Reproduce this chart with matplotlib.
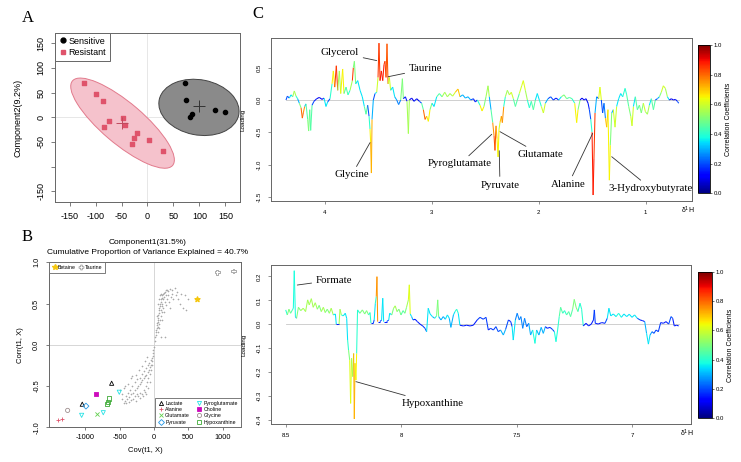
import numpy as np
import matplotlib as mpl
import matplotlib.pyplot as plt
from matplotlib.collections import LineCollection
from matplotlib.patches import Ellipse
from matplotlib.lines import Line2D
from matplotlib.ticker import FormatStrFormatter

plt.rcParams['font.family'] = ['Liberation Sans', 'DejaVu Sans']
plt.rcParams['axes.unicode_minus'] = False
SERIF = ['Liberation Serif', 'DejaVu Serif']

# ---------------- panel A : PLS-DA scores ----------------
sens_x = [73, 74, 82, 86, 129, 150]
sens_y = [70, 36, 0, 6, 14, 10]
res_x = [-122, -99, -85, -75, -83, -47, -43, -20, -26, -29, 3, 30]
res_y = [69, 48, 32, -8, -19, -1, -16, -33, -43, -55, -46, -68]
# confidence ellipses: centre x, centre y, width, height, angle
sens_ell = [99, 20, 156, 112, -12]
res_ell = [-48, -12, 258, 82, -42]

# ---------------- panel B : S-plot ----------------
cloud_cov = [10, 20, 25, 30, 35, 40, 45, 50, 55, 60, 65, 70, 75, 80, 85, 90, 95, 100,
             110, 120, 130, 140, 155, 170, 190, 210, 230, 260, 300, 330, 200, 250, 280,
             320, 350, 380, 420, 470, 500, 450, 400, 150, 160, 120, 130, 110, 100, 90,
             80, 70, 60, 120, 140, 155, 100, 180, 220, 240, 130, 170, 75, 85, 60, 45,
             110, 95, 65, 55, 105, 190, 260,
             -5, -10, -15, -20, -25, -35, -45, -60, -75, -90, -110, -130, -150, -170,
             -190, -210, -230, -250, -270, -300, -330, -360, -390, -420, -440, -400,
             -370, -340, -300, -260, -230, -200, -180, -150, -120, -100, -80, -60, -40,
             -30, -50, -70, -90, -110, -140, -170, -200, -240, -280, -320, -350, -380,
             -410, -460, -420, -380, -330, -260, -220, -180, -130, -100, -160, -130,
             -110, -90, -200, -240, -280, -60, -320, -500, -470, -440]
cloud_cor = [0.05, 0.1, 0.12, 0.15, 0.18, 0.2, 0.24, 0.27, 0.3, 0.33, 0.36, 0.38, 0.42,
             0.45, 0.47, 0.5, 0.52, 0.55, 0.57, 0.6, 0.62, 0.63, 0.64, 0.66, 0.67, 0.65,
             0.68, 0.66, 0.69, 0.64, 0.6, 0.58, 0.55, 0.6, 0.55, 0.5, 0.45, 0.42, 0.55,
             0.6, 0.62, 0.58, 0.52, 0.5, 0.45, 0.4, 0.35, 0.3, 0.25, 0.2, 0.15, 0.3, 0.4,
             0.1, 0.1, 0.48, 0.52, 0.45, 0.55, 0.6, 0.55, 0.6, 0.5, 0.35, 0.47, 0.42,
             0.28, 0.22, 0.62, 0.55, 0.62,
             -0.03, -0.06, -0.1, -0.13, -0.16, -0.2, -0.24, -0.27, -0.3, -0.33, -0.36,
             -0.38, -0.4, -0.43, -0.45, -0.48, -0.5, -0.52, -0.55, -0.58, -0.6, -0.63,
             -0.66, -0.68, -0.7, -0.7, -0.69, -0.67, -0.66, -0.68, -0.62, -0.58, -0.6,
             -0.55, -0.5, -0.45, -0.4, -0.35, -0.3, -0.25, -0.18, -0.22, -0.25, -0.28,
             -0.32, -0.35, -0.4, -0.42, -0.45, -0.5, -0.55, -0.58, -0.62, -0.66, -0.5,
             -0.48, -0.4, -0.36, -0.3, -0.26, -0.2, -0.15, -0.62, -0.57, -0.6, -0.52,
             -0.65, -0.6, -0.62, -0.45, -0.38, -0.55, -0.6, -0.52]

metab_names = ['Lactate', 'Alanine', 'Glutamate', 'Pyruvate',
               'Pyroglutamate', 'Choline', 'Glycine', 'Hypoxanthine']
metab_cov = [[-616, -1044], [-1402, -1343], [-834], [-990],
             [-505, -1053, -738], [-844], [-1257], [-650, -665, -680]]
metab_cor = [[-0.466, -0.72], [-0.916, -0.895], [-0.835], [-0.743],
             [-0.575, -0.855, -0.823], [-0.594], [-0.795], [-0.65, -0.69, -0.72]]
metab_col = ['black', '#DF536B', '#61D04F', '#2297E6',
             '#28E2E5', '#CD0BBC', '#9E8E8E', '#3DAA35']
metab_mk = ['^', '+', 'x', 'D', 'v', 's', 'o', 's']
top_names = ['Betaine', 'Taurine']
top_cov = [[621], [921, 1155]]
top_cor = [[0.55], [0.88, 0.895]]

# ---------------- panel C : loadings coloured by correlation ----------------
hi_ppm = [4.365, 4.352, 4.334, 4.318, 4.302, 4.287, 4.271, 4.256, 4.240, 4.224,
          4.212, 4.203, 4.190, 4.178, 4.162, 4.153, 4.143, 4.134, 4.121, 4.103,
          4.078, 4.053, 4.028, 4.009, 3.991, 3.975, 3.953, 3.934, 3.922, 3.909,
          3.894, 3.881, 3.866, 3.853, 3.835, 3.822, 3.803, 3.785, 3.766, 3.744,
          3.735, 3.725, 3.713, 3.694, 3.672, 3.651, 3.632, 3.616, 3.601, 3.588,
          3.579, 3.573, 3.566, 3.560, 3.548, 3.532, 3.516, 3.504, 3.495, 3.485,
          3.473, 3.460, 3.448, 3.439, 3.429, 3.420, 3.410, 3.398, 3.386, 3.367,
          3.348, 3.329, 3.311, 3.292, 3.276, 3.267, 3.248, 3.233, 3.220, 3.211,
          3.189, 3.167, 3.142, 3.117, 3.096, 3.080, 3.064, 3.049, 3.033, 3.018,
          2.999, 2.980, 2.955, 2.930, 2.905, 2.880, 2.855, 2.831, 2.806, 2.781,
          2.756, 2.737, 2.712, 2.687, 2.662, 2.637, 2.612, 2.594, 2.575, 2.550,
          2.531, 2.513, 2.494, 2.475, 2.463, 2.447, 2.431, 2.419, 2.410, 2.400,
          2.391, 2.381, 2.372, 2.363, 2.350, 2.341, 2.328, 2.313, 2.294, 2.275,
          2.257, 2.238, 2.219, 2.201, 2.182, 2.160, 2.145, 2.126, 2.107, 2.088,
          2.070, 2.051, 2.032, 2.014, 1.995, 1.976, 1.957, 1.939, 1.914, 1.889,
          1.864, 1.839, 1.814, 1.789, 1.764, 1.739, 1.714, 1.689, 1.664, 1.646,
          1.633, 1.614, 1.596, 1.577, 1.558, 1.539, 1.527, 1.514, 1.502, 1.492,
          1.484, 1.474, 1.459, 1.440, 1.428, 1.415, 1.403, 1.390, 1.377, 1.365,
          1.353, 1.340, 1.331, 1.318, 1.303, 1.287, 1.272, 1.253, 1.234, 1.215,
          1.193, 1.178, 1.159, 1.140, 1.128, 1.115, 1.097, 1.078, 1.059, 1.041,
          1.022, 1.003, 0.984, 0.966, 0.947, 0.928, 0.910, 0.891, 0.872, 0.854,
          0.835, 0.816, 0.797, 0.779, 0.760, 0.741, 0.722, 0.704, 0.691]
hi_load = [0.00, 0.06, 0.03, 0.08, 0.05, 0.14, 0.06, 0.02, -0.05, -0.12,
           -0.28, -0.20, -0.10, -0.06, -0.30, -0.48, -0.15, -0.47, -0.08, -0.02,
           0.02, 0.04, 0.01, 0.03, -0.10, -0.03, 0.02, 0.25, 0.45, 0.20,
           0.53, 0.15, 0.45, 0.10, 0.48, 0.10, 0.20, 0.08, 0.15, 0.30,
           0.50, 0.60, 0.25, 0.30, 0.15, 0.05, -0.10, -0.22, -0.08, -0.25,
           -0.45, -0.65, -1.13, -0.30, 0.00, 0.10, 0.12, 0.35, 0.88, 0.30,
           0.45, 0.30, 0.55, 0.60, 0.35, 0.87, 0.25, 0.35, 0.15, 0.20,
           0.05, 0.00, -0.07, 0.00, 0.33, 0.02, 0.05, -0.02, -0.52, 0.00,
           0.03, -0.02, 0.02, -0.02, -0.05, -0.15, -0.30, -0.25, -0.33, -0.15,
           -0.05, -0.10, 0.05, 0.10, 0.05, 0.12, 0.05, 0.10, 0.06, 0.12,
           0.17, 0.05, 0.08, 0.03, 0.05, 0.00, 0.02, -0.03, 0.00, -0.08,
           -0.17, -0.10, 0.05, 0.22, 0.05, -0.15, -0.35, -0.55, -0.78, -0.40,
           -0.60, -0.88, -0.45, -0.35, -0.25, -0.35, -0.10, 0.05, 0.15, 0.08,
           0.12, 0.02, -0.10, 0.00, 0.10, 0.22, 0.30, 0.15, 0.00, -0.12,
           -0.02, -0.15, 0.00, 0.10, 0.00, -0.10, -0.20, -0.05, 0.02, 0.05,
           0.00, 0.03, 0.00, 0.05, 0.08, 0.02, 0.04, 0.02, -0.05, -0.35,
           -0.15, 0.00, 0.03, 0.00, 0.02, -0.05, -0.15, -0.30, -0.50, -1.47,
           -0.90, -0.20, 0.05, 0.02, 0.20, 0.00, -0.20, -0.05, -0.28, -0.42,
           -0.15, -1.24, -0.70, -0.20, -0.15, -0.42, -0.10, 0.02, 0.10, 0.05,
           0.18, 0.08, -0.10, -0.25, -0.40, -0.10, 0.05, -0.15, -0.08, -0.20,
           -0.05, -0.18, -0.22, -0.08, 0.02, -0.15, 0.00, 0.02, 0.05, 0.12,
           0.22, 0.18, 0.05, 0.00, 0.02, 0.00, 0.01, -0.02, -0.05]
hi_corr = [0.15, 0.2, 0.15, 0.35, 0.3, 0.55, 0.4, 0.2, 0.3, 0.5,
           0.8, 0.75, 0.3, 0.2, 0.45, 0.5, 0.3, 0.45, 0.2, 0.15,
           0.1, 0.1, 0.15, 0.1, 0.35, 0.2, 0.15, 0.4, 0.65, 0.4,
           0.85, 0.45, 0.55, 0.35, 0.65, 0.35, 0.45, 0.3, 0.4, 0.55,
           0.85, 0.5, 0.4, 0.35, 0.35, 0.3, 0.35, 0.45, 0.25, 0.2,
           0.4, 0.65, 0.72, 0.3, 0.15, 0.2, 0.35, 0.6, 0.85, 0.8,
           0.88, 0.9, 0.88, 0.85, 0.85, 0.82, 0.75, 0.6, 0.4, 0.35,
           0.3, 0.15, 0.25, 0.15, 0.5, 0.2, 0.15, 0.2, 0.55, 0.2,
           0.1, 0.15, 0.1, 0.1, 0.2, 0.45, 0.8, 0.75, 0.65, 0.5,
           0.3, 0.35, 0.3, 0.45, 0.35, 0.55, 0.4, 0.55, 0.4, 0.6,
           0.7, 0.35, 0.3, 0.2, 0.3, 0.15, 0.2, 0.15, 0.2, 0.4,
           0.65, 0.5, 0.4, 0.55, 0.35, 0.3, 0.45, 0.75, 0.82, 0.75,
           0.72, 0.65, 0.6, 0.7, 0.8, 0.75, 0.4, 0.4, 0.55, 0.45,
           0.6, 0.35, 0.45, 0.3, 0.45, 0.6, 0.62, 0.55, 0.35, 0.4,
           0.3, 0.45, 0.2, 0.35, 0.2, 0.4, 0.6, 0.3, 0.15, 0.2,
           0.1, 0.15, 0.1, 0.35, 0.5, 0.4, 0.45, 0.3, 0.4, 0.65,
           0.5, 0.2, 0.1, 0.1, 0.15, 0.1, 0.15, 0.2, 0.4, 0.88,
           0.85, 0.3, 0.2, 0.15, 0.62, 0.3, 0.2, 0.15, 0.25, 0.7,
           0.2, 0.65, 0.5, 0.3, 0.35, 0.6, 0.35, 0.3, 0.35, 0.3,
           0.4, 0.35, 0.45, 0.5, 0.6, 0.35, 0.3, 0.45, 0.35, 0.5,
           0.3, 0.6, 0.55, 0.35, 0.3, 0.45, 0.3, 0.2, 0.3, 0.5,
           0.6, 0.55, 0.35, 0.15, 0.1, 0.1, 0.1, 0.15, 0.2]

ar_ppm = [8.500, 8.493, 8.486, 8.479, 8.471, 8.467, 8.463, 8.458, 8.453, 8.445,
          8.435, 8.424, 8.414, 8.405, 8.398, 8.389, 8.381, 8.372, 8.363, 8.355,
          8.346, 8.337, 8.329, 8.320, 8.311, 8.303, 8.294, 8.285, 8.281, 8.269,
          8.265, 8.259, 8.251, 8.242, 8.236, 8.232, 8.228, 8.223, 8.219, 8.215,
          8.210, 8.206, 8.203, 8.200, 8.196, 8.193, 8.189, 8.179, 8.168, 8.158,
          8.150, 8.141, 8.135, 8.131, 8.121, 8.117, 8.112, 8.108, 8.105, 8.102,
          8.092, 8.085, 8.080, 8.076, 8.063, 8.054, 8.050, 8.041, 8.033, 8.026,
          8.018, 8.010, 8.001, 7.992, 7.984, 7.977, 7.969, 7.965, 7.961, 7.955,
          7.949, 7.940, 7.930, 7.919, 7.907, 7.897, 7.890, 7.883, 7.875, 7.865,
          7.855, 7.847, 7.842, 7.838, 7.828, 7.818, 7.809, 7.800, 7.792, 7.785,
          7.774, 7.767, 7.760, 7.753, 7.746, 7.731, 7.717, 7.702, 7.688, 7.671,
          7.659, 7.645, 7.633, 7.623, 7.613, 7.601, 7.590, 7.580, 7.570, 7.558,
          7.548, 7.536, 7.526, 7.520, 7.515, 7.506, 7.498, 7.489, 7.482, 7.474,
          7.466, 7.457, 7.448, 7.440, 7.431, 7.421, 7.414, 7.404, 7.394, 7.385,
          7.376, 7.368, 7.356, 7.346, 7.337, 7.330, 7.323, 7.316, 7.310, 7.301,
          7.293, 7.284, 7.275, 7.267, 7.258, 7.251, 7.243, 7.235, 7.226, 7.219,
          7.212, 7.200, 7.189, 7.177, 7.168, 7.164, 7.160, 7.147, 7.132, 7.118,
          7.108, 7.101, 7.093, 7.082, 7.070, 7.059, 7.047, 7.036, 7.024, 7.013,
          7.001, 6.990, 6.978, 6.966, 6.955, 6.946, 6.938, 6.930, 6.923, 6.914,
          6.906, 6.897, 6.887, 6.877, 6.865, 6.854, 6.842, 6.832, 6.825, 6.818,
          6.808, 6.799]
ar_load = [0.060, 0.039, 0.063, 0.046, 0.060, 0.067, 0.224, 0.032, 0.025, 0.071,
           0.057, 0.067, 0.053, 0.102, 0.081, 0.107, 0.071, 0.090, 0.063, 0.079,
           0.053, 0.071, 0.049, 0.063, 0.046, 0.067, 0.039, 0.043, 0.000, 0.000,
           0.063, 0.039, 0.035, 0.046, 0.025, -0.066, -0.108, -0.150, -0.331, -0.142,
           -0.219, -0.122, -0.396, -0.163, -0.233, -0.122, 0.060, 0.046, 0.060, 0.043,
           0.057, 0.039, 0.049, 0.004, 0.004, 0.018, 0.088, 0.116, 0.199, 0.011,
           0.011, 0.018, 0.109, 0.011, 0.011, 0.018, 0.046, 0.039, 0.067, 0.077,
           0.053, 0.063, 0.039, 0.057, 0.046, 0.071, 0.102, 0.165, 0.043, 0.032,
           0.018, 0.021, 0.011, 0.001, -0.007, -0.017, -0.031, 0.067, 0.043, 0.032,
           0.025, 0.035, 0.102, 0.032, 0.018, 0.032, 0.021, 0.039, 0.025, -0.013,
           0.039, 0.053, 0.063, 0.046, -0.004, -0.007, -0.004, -0.007, -0.004, 0.018,
           0.029, 0.021, 0.029, -0.024, -0.017, -0.024, -0.010, -0.031, -0.024, -0.045,
           -0.021, 0.018, 0.011, -0.010, -0.066, 0.018, 0.046, 0.018, 0.032, -0.017,
           0.025, -0.010, 0.004, -0.045, -0.024, -0.080, -0.024, -0.045, -0.013, -0.038,
           -0.010, -0.017, -0.013, -0.021, -0.031, -0.073, -0.024, 0.032, 0.071, 0.046,
           0.057, 0.039, 0.053, 0.032, 0.063, 0.104, 0.071, 0.053, 0.088, 0.063,
           -0.007, 0.004, -0.007, 0.001, 0.018, 0.060, 0.004, 0.001, 0.007, 0.004,
           0.025, 0.067, 0.035, 0.043, 0.032, 0.046, 0.029, 0.043, 0.032, 0.042,
           0.029, 0.039, 0.025, 0.018, 0.015, 0.011, -0.038, -0.083, -0.045, -0.031,
           -0.038, -0.024, -0.031, 0.007, 0.004, 0.011, 0.001, 0.032, 0.025, -0.007,
           -0.004, -0.007]
ar_corr = [0.4, 0.45, 0.5, 0.4, 0.45, 0.4, 0.38, 0.3, 0.2, 0.5,
           0.5, 0.55, 0.45, 0.55, 0.6, 0.55, 0.5, 0.55, 0.45, 0.5,
           0.45, 0.55, 0.4, 0.5, 0.4, 0.55, 0.4, 0.35, 0.15, 0.15,
           0.55, 0.4, 0.35, 0.35, 0.3, 0.35, 0.4, 0.5, 0.62, 0.45,
           0.55, 0.45, 0.72, 0.6, 0.65, 0.4, 0.4, 0.45, 0.5, 0.45,
           0.5, 0.45, 0.4, 0.15, 0.15, 0.2, 0.35, 0.4, 0.75, 0.15,
           0.15, 0.2, 0.35, 0.15, 0.15, 0.2, 0.35, 0.35, 0.5, 0.55,
           0.45, 0.5, 0.35, 0.45, 0.4, 0.5, 0.55, 0.62, 0.35, 0.3,
           0.15, 0.15, 0.15, 0.15, 0.15, 0.18, 0.2, 0.35, 0.35, 0.3,
           0.3, 0.4, 0.5, 0.3, 0.18, 0.3, 0.25, 0.35, 0.3, 0.18,
           0.3, 0.35, 0.4, 0.35, 0.15, 0.15, 0.15, 0.15, 0.15, 0.15,
           0.18, 0.15, 0.18, 0.15, 0.15, 0.18, 0.15, 0.2, 0.2, 0.3,
           0.2, 0.15, 0.18, 0.2, 0.35, 0.18, 0.25, 0.18, 0.25, 0.2,
           0.25, 0.2, 0.18, 0.3, 0.25, 0.38, 0.25, 0.3, 0.2, 0.3,
           0.18, 0.15, 0.15, 0.18, 0.2, 0.38, 0.25, 0.4, 0.45, 0.45,
           0.4, 0.4, 0.45, 0.3, 0.45, 0.5, 0.5, 0.45, 0.4, 0.4,
           0.15, 0.15, 0.15, 0.15, 0.15, 0.18, 0.15, 0.15, 0.15, 0.15,
           0.2, 0.35, 0.25, 0.35, 0.3, 0.38, 0.3, 0.35, 0.3, 0.35,
           0.3, 0.35, 0.2, 0.15, 0.15, 0.15, 0.3, 0.35, 0.28, 0.2,
           0.2, 0.18, 0.18, 0.15, 0.15, 0.15, 0.15, 0.2, 0.15, 0.15,
           0.15, 0.15]

hi_labels = ['Glycerol', 'Taurine', 'Glycine', 'Pyroglutamate', 'Glutamate',
             'Pyruvate', 'Alanine', '3-Hydroxybutyrate']
hi_peak = [(3.516, 0.61), (3.41, 0.36), (3.579, -0.66), (2.44, -0.53), (2.363, -0.49),
           (2.37, -0.785), (1.496, -0.516), (1.318, -0.877)]
hi_text = [(3.86, 0.73), (3.06, 0.48), (3.75, -1.16), (2.737, -0.99), (1.989, -0.84),
           (2.363, -1.316), (1.724, -1.305), (0.953, -1.367)]
ar_labels = ['Formate', 'Hypoxanthine']
ar_peak = [(8.45, 0.164), (8.196, -0.24)]
ar_text = [(8.291, 0.185), (7.865, -0.33)]

GRAY = '#666666'
fig = plt.figure(figsize=(7.41, 4.62), dpi=100)


def frame(ax):
    for s in ax.spines.values():
        s.set_color(GRAY)
        s.set_linewidth(0.7)


# ---------- A ----------
axA = fig.add_axes([0.0742, 0.5628, 0.2497, 0.3658])
frame(axA)
axA.axhline(0, color='#e3e3e3', lw=0.6, zorder=0)
axA.axvline(0, color='#e3e3e3', lw=0.6, zorder=0)
axA.add_patch(Ellipse(sens_ell[:2], sens_ell[2], sens_ell[3], angle=sens_ell[4],
                      facecolor='#8a8a8a', edgecolor='#444444', lw=0.7, zorder=1))
axA.add_patch(Ellipse(res_ell[:2], res_ell[2], res_ell[3], angle=res_ell[4],
                      facecolor='#f5c2cc', edgecolor='#e27a8c', lw=0.7, zorder=1))
axA.scatter(sens_x, sens_y, s=9, color='black', zorder=3)
axA.scatter(res_x, res_y, s=9, marker='s', color='#DF536B', zorder=3)
axA.plot(np.mean(sens_x), np.mean(sens_y), marker='+', ms=9, mew=0.7, color='#333333', zorder=4)
axA.plot(np.mean(res_x), np.mean(res_y), marker='+', ms=9, mew=0.7, color='#c04a5e', zorder=4)
axA.set_xlim(-178, 178)
axA.set_ylim(-172, 171)
axA.set_xticks(range(-150, 151, 50))
axA.set_yticks(range(-150, 151, 50))
axA.set_yticklabels(['-150', '', '-50', '0', '50', '100', '150'])
axA.tick_params(labelsize=6.5, length=3, width=0.6, color=GRAY, pad=4)
axA.tick_params(axis='y', labelrotation=90)
for t in axA.get_yticklabels():
    t.set_va('center')
axA.set_ylabel('Component2(9.2%)', fontsize=6.5)
axA.yaxis.set_label_coords(-0.178, 0.5)
legA = axA.legend(handles=[Line2D([], [], ls='', marker='o', ms=3.5, color='black', label='Sensitive'),
                           Line2D([], [], ls='', marker='s', ms=3.5, color='#DF536B', label='Resistant')],
                  loc='upper left', fontsize=6.5, fancybox=False, borderaxespad=0,
                  handletextpad=0.1, handlelength=1.0, borderpad=0.4, labelspacing=0.3,
                  framealpha=1)
legA.get_frame().set_edgecolor(GRAY)
legA.get_frame().set_linewidth(0.7)

fig.text(0.1985, 1 - 243 / 462, 'Component1(31.5%)', fontsize=6, ha='center', va='center')
fig.text(0.1985, 1 - 253 / 462, 'Cumulative Proportion of Variance Explained = 40.7%',
         fontsize=6, ha='center', va='center')

# ---------- B ----------
axB = fig.add_axes([0.0665, 0.0751, 0.2583, 0.3571])
frame(axB)
axB.axhline(0, color='#d0d0d0', lw=0.6, zorder=0)
axB.axvline(0, color='#d0d0d0', lw=0.6, zorder=0)
axB.scatter(cloud_cov, cloud_cor, s=2.5, marker='+', linewidths=0.4, color='#a8a8a8', zorder=2)
handles_low = []
for name, cx, cy, col, mk in zip(metab_names, metab_cov, metab_cor, metab_col, metab_mk):
    fc = col if name == 'Choline' else 'none'
    if mk in ('+', 'x'):
        axB.scatter(cx, cy, s=9, marker=mk, color=col, linewidths=0.6, zorder=3)
        h = Line2D([], [], ls='', marker=mk, ms=3, color=col, mew=0.6, label=name)
    else:
        axB.scatter(cx, cy, s=9, marker=mk, facecolors=fc, edgecolors=col, linewidths=0.6, zorder=3)
        h = Line2D([], [], ls='', marker=mk, ms=3, mfc=fc, mec=col, mew=0.6, label=name)
    handles_low.append(h)
axB.scatter(top_cov[0], top_cor[0], s=14, marker='*', color='#F5C710', zorder=3)
axB.scatter(top_cov[1], top_cor[1], s=12, marker='P', facecolors='none',
            edgecolors='#9E9E9E', linewidths=0.6, zorder=3)
handles_top = [Line2D([], [], ls='', marker='*', ms=4, color='#F5C710', label=top_names[0]),
               Line2D([], [], ls='', marker='P', ms=3.5, mfc='none', mec='#9E9E9E', mew=0.6,
                      label=top_names[1])]
axB.set_xlim(-1524, 1262)
axB.set_ylim(-1, 1)
axB.set_xticks([-1000, -500, 0, 500, 1000])
axB.set_yticks([-1, -0.5, 0, 0.5, 1])
axB.yaxis.set_major_formatter(FormatStrFormatter('%.1f'))
axB.tick_params(labelsize=5.3, length=2.5, width=0.6, color=GRAY, pad=2)
axB.tick_params(axis='y', labelrotation=90, pad=4)
for t in axB.get_yticklabels():
    t.set_va('center')
axB.set_xlabel('Cov(t1, X)', fontsize=5.5, labelpad=5)
axB.set_ylabel('Corr(t1, X)', fontsize=5.5)
axB.yaxis.set_label_coords(-0.132, 0.5)
lb1 = axB.legend(handles=handles_top, loc='upper left', ncol=2, fontsize=3.8, fancybox=False,
                 borderaxespad=0, handletextpad=0.1, handlelength=1.0, columnspacing=0.6,
                 borderpad=0.5, framealpha=1)
lb1.get_frame().set_edgecolor(GRAY)
lb1.get_frame().set_linewidth(0.6)
axB.add_artist(lb1)
lb2 = axB.legend(handles=handles_low, loc='lower right', ncol=2, fontsize=3.8, fancybox=False,
                 borderaxespad=0, handletextpad=0.2, handlelength=1.2, columnspacing=1.2,
                 borderpad=0.5, labelspacing=0.25, framealpha=1)
lb2.get_frame().set_edgecolor(GRAY)
lb2.get_frame().set_linewidth(0.6)

# ---------- C ----------
norm = plt.Normalize(0, 1)


def spectrum(ax, ppm, load, corr):
    load = np.asarray(load)
    corr = np.asarray(corr)
    pts = np.column_stack([ppm, load])
    segs = np.stack([pts[:-1], pts[1:]], axis=1)
    # each segment takes the colour of its end that lies farther from zero
    i = np.arange(len(load) - 1)
    pick = np.where(np.abs(load[:-1]) >= np.abs(load[1:]), i, i + 1)
    lc = LineCollection(segs, cmap='jet', norm=norm, linewidth=0.75, zorder=2)
    lc.set_array(corr[pick])
    ax.add_collection(lc)
    ax.plot([ppm[0], ppm[-1]], [0, 0], color='#c8c8c8', lw=0.6, zorder=1)


def style_c(ax, xt, yt, yfmt):
    frame(ax)
    ax.set_xticks(xt)
    ax.set_yticks(yt)
    ax.yaxis.set_major_formatter(FormatStrFormatter(yfmt))
    ax.tick_params(labelsize=4.3, length=2.5, width=0.5, color=GRAY, pad=4)
    ax.tick_params(axis='y', labelrotation=90)
    for t in ax.get_yticklabels():
        t.set_va('center')
    ax.set_ylabel('Loading', fontsize=4.5)
    ax.yaxis.set_label_coords(-0.0586, 0.5)
    ax.text(0.99, -0.06, 'δ$^1$H', transform=ax.transAxes, fontsize=5, ha='center', va='center')


def annotate(ax, labels, peaks, texts):
    for lab, p, t in zip(labels, peaks, texts):
        ax.annotate(lab, xy=p, xytext=t, ha='center', va='center', fontsize=7.8,
                    family=SERIF, zorder=5,
                    arrowprops=dict(arrowstyle='-', color='#333333', lw=0.6,
                                    shrinkA=1, shrinkB=0))


def colorbar(rect):
    cax = fig.add_axes(rect)
    cb = fig.colorbar(mpl.cm.ScalarMappable(norm=norm, cmap='jet'), cax=cax)
    cb.set_ticks([0, 0.2, 0.4, 0.6, 0.8, 1.0])
    cb.ax.yaxis.set_major_formatter(FormatStrFormatter('%.1f'))
    cb.ax.tick_params(labelsize=4.3, length=1.5, width=0.4, pad=1)
    cb.outline.set_linewidth(0.6)
    cb.set_label('Correlation Coefficients', fontsize=5, labelpad=2)


axC1 = fig.add_axes([0.3653, 0.5649, 0.569, 0.3522])
spectrum(axC1, hi_ppm, hi_load, hi_corr)
axC1.set_xlim(4.508, 0.564)
axC1.set_ylim(-1.563, 0.955)
style_c(axC1, [4, 3, 2, 1], [-1.5, -1.0, -0.5, 0.0, 0.5], '%.1f')
annotate(axC1, hi_labels, hi_peak, hi_text)
colorbar([0.9415, 0.5816, 0.0166, 0.321])

axC2 = fig.add_axes([0.3653, 0.0823, 0.5668, 0.3442])
spectrum(axC2, ar_ppm, ar_load, ar_corr)
axC2.set_xlim(8.565, 6.747)
axC2.set_ylim(-0.417, 0.248)
style_c(axC2, [8.5, 8, 7.5, 7], [-0.4, -0.3, -0.2, -0.1, 0.0, 0.1, 0.2], '%.1f')
axC2.xaxis.set_major_formatter(FormatStrFormatter('%g'))
annotate(axC2, ar_labels, ar_peak, ar_text)
colorbar([0.9415, 0.0959, 0.0193, 0.3147])

# panel letters
fig.text(27.5 / 741, 1 - 17.5 / 462, 'A', fontsize=12, family=SERIF, ha='center', va='center')
fig.text(26.7 / 741, 1 - 236.7 / 462, 'B', fontsize=12, family=SERIF, ha='center', va='center')
fig.text(257.5 / 741, 1 - 14 / 462, 'C', fontsize=12, family=SERIF, ha='center', va='center')

fig.savefig('out.png', dpi=100)
